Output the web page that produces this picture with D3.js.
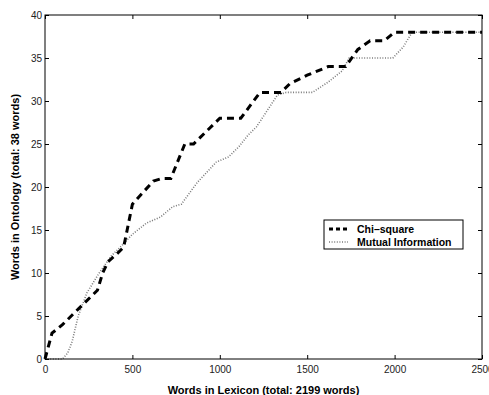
<!DOCTYPE html>
<html>
<head>
<meta charset="utf-8">
<script src="https://cdn.jsdelivr.net/npm/d3@7"></script>
<style>
  body { margin: 0; background: #fff; }
  svg { display: block; font-family: "Liberation Sans", Arial, Helvetica, sans-serif; }
</style>
</head>
<body>
<div id="chart"></div>
<script>
// chart data
var xTicks = [0, 500, 1000, 1500, 2000, 2500];
var yTicks = [0, 5, 10, 15, 20, 25, 30, 35, 40];
var seriesNames = ["Chi\u2013square", "Mutual Information"];

var chiX = [0, 40, 100, 190, 300, 330, 360, 410, 450, 470, 500, 620, 670, 720, 800, 850, 1000, 1120, 1230, 1350, 1400, 1500, 1620, 1720, 1790, 1860, 1940, 2000, 2500];
var chiY = [0, 3, 4, 5.8, 8, 10, 11.3, 12.2, 13, 15, 18, 20.7, 21, 21, 25, 25, 28, 28, 31, 31, 32, 33, 34, 34, 36, 37, 37, 38, 38];

var miX = [0, 100, 130, 155, 190, 240, 310, 380, 430, 500, 580, 660, 730, 780, 870, 980, 1050, 1110, 1160, 1210, 1330, 1380, 1530, 1620, 1700, 1740, 1990, 2050, 2100, 2500];
var miY = [0, 0, 0.7, 2, 5, 7.7, 10, 12, 13, 14.5, 15.8, 16.5, 17.7, 18, 20.5, 22.9, 23.5, 24.7, 26, 27, 30.7, 31, 31, 32.2, 33.5, 35, 35, 36.3, 38, 38];

var W = 489, H = 395;
var m = { left: 45, right: 482, top: 15, bottom: 359 };

var svg = d3.select("#chart").append("svg")
  .attr("width", W).attr("height", H);

var x = d3.scaleLinear().domain([0, 2500]).range([m.left, m.right]);
var y = d3.scaleLinear().domain([0, 40]).range([m.bottom, m.top]);

var chi = chiX.map((v, i) => [v, chiY[i]]);
var mi = miX.map((v, i) => [v, miY[i]]);

var line = d3.line().x(d => x(d[0])).y(d => y(d[1]));

// lines
svg.append("path")
  .attr("d", line(mi))
  .attr("fill", "none")
  .attr("stroke", "#7a7a7a")
  .attr("stroke-width", 1.6)
  .attr("stroke-dasharray", "1,1.6");

svg.append("path")
  .attr("d", line(chi))
  .attr("fill", "none")
  .attr("stroke", "#000")
  .attr("stroke-width", 3)
  .attr("stroke-dasharray", "7,5");

// axes with inward ticks, MATLAB box style
function tickStyle(g) {
  g.select(".domain").remove();
  g.selectAll(".tick line").attr("stroke", "#000");
  g.selectAll(".tick text").attr("fill", "#222").style("font-size", "10px");
}

svg.append("g")
  .attr("transform", `translate(0,${m.bottom})`)
  .call(d3.axisBottom(x).tickValues(xTicks).tickSize(-4).tickPadding(7).tickFormat(d3.format("d")))
  .call(tickStyle);

svg.append("g")
  .attr("transform", `translate(0,${m.top})`)
  .call(d3.axisTop(x).tickValues(xTicks).tickSize(-4).tickFormat(""))
  .call(tickStyle);

svg.append("g")
  .attr("transform", `translate(${m.left},0)`)
  .call(d3.axisLeft(y).tickValues(yTicks).tickSize(-4).tickPadding(3).tickFormat(d3.format("d")))
  .call(tickStyle);

svg.append("g")
  .attr("transform", `translate(${m.right},0)`)
  .call(d3.axisRight(y).tickValues(yTicks).tickSize(-4).tickFormat(""))
  .call(tickStyle);

svg.append("rect")
  .attr("x", m.left).attr("y", m.top)
  .attr("width", m.right - m.left).attr("height", m.bottom - m.top)
  .attr("fill", "none").attr("stroke", "#000").attr("stroke-width", 1);

// axis labels
svg.append("text")
  .attr("x", (m.left + m.right) / 2).attr("y", 394)
  .attr("text-anchor", "middle")
  .style("font-size", "11px").style("font-weight", "bold")
  .text("Words in Lexicon (total: 2199 words)");

svg.append("text")
  .attr("transform", `translate(19,${(m.top + m.bottom) / 2}) rotate(-90)`)
  .attr("text-anchor", "middle")
  .style("font-size", "11px").style("font-weight", "bold")
  .text("Words in Ontology (total: 38 words)");

// legend
var lg = svg.append("g").attr("transform", "translate(324,220)");
lg.append("rect")
  .attr("width", 139).attr("height", 29)
  .attr("fill", "#fff").attr("stroke", "#000").attr("stroke-width", 1);

var styles = [
  { stroke: "#000", width: 3, dash: "4,3" },
  { stroke: "#7a7a7a", width: 1.6, dash: "1,1.6" }
];
seriesNames.forEach(function(name, i) {
  var yy = 9 + i * 13;
  lg.append("line")
    .attr("x1", 5).attr("x2", 24).attr("y1", yy).attr("y2", yy)
    .attr("stroke", styles[i].stroke)
    .attr("stroke-width", styles[i].width)
    .attr("stroke-dasharray", styles[i].dash);
  lg.append("text")
    .attr("x", 33).attr("y", yy + 4)
    .style("font-size", "10.5px").style("font-weight", "bold")
    .text(name);
});
</script>
</body>
</html>
